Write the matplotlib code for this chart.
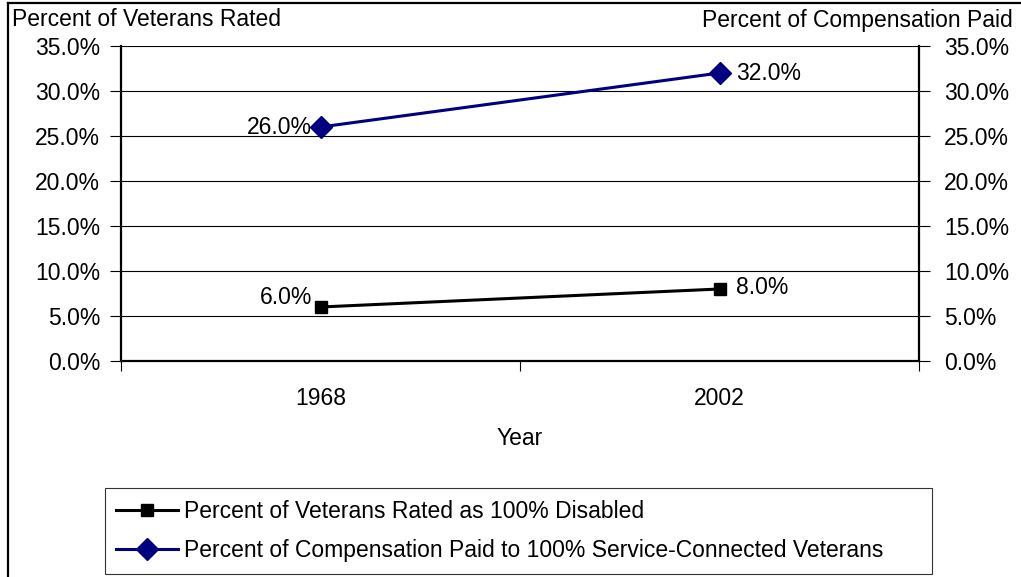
import matplotlib.pyplot as plt
from matplotlib.lines import Line2D
from matplotlib.ticker import FixedLocator, FuncFormatter
import numpy as np

plt.rcParams['font.family'] = ['Liberation Sans', 'DejaVu Sans']

years = ['1968', '2002']
rated_pct = [6.0, 8.0]
comp_pct = [26.0, 32.0]
rated_name = 'Percent of Veterans Rated as 100% Disabled'
comp_name = 'Percent of Compensation Paid to 100% Service-Connected Veterans'

W, H = 1021, 577
fig = plt.figure(figsize=(W / 100, H / 100), dpi=100)
ax = fig.add_axes([121 / W, 1 - 361 / H, (919 - 121) / W, (361 - 46) / H])

x = np.arange(len(years)) + 0.5
fs = 16.5

ax.set_xlim(0, len(years))
ax.set_ylim(0, 35)
ax.yaxis.set_major_locator(FixedLocator(np.arange(0, 35.1, 5)))
ax.yaxis.set_major_formatter(FuncFormatter(lambda v, p: f'{v:.1f}%'))
ax.grid(axis='y', color='black', linewidth=0.8)
ax.set_axisbelow(True)

ax.set_xticks(x)
ax.set_xticklabels(years, fontsize=fs)
ax.set_xticks(np.arange(len(years) + 1), minor=True)
ax.tick_params(axis='x', which='major', length=0, pad=19)
ax.tick_params(axis='x', which='minor', length=7, width=0.8, direction='out')
ax.tick_params(axis='y', length=8, width=0.8, direction='out', labelsize=fs, pad=7)
ax.set_xlabel('Year', fontsize=fs, labelpad=12)

for side in ['left', 'right', 'bottom']:
    ax.spines[side].set_linewidth(1.6)
ax.spines['top'].set_visible(False)

l1, = ax.plot(x, rated_pct, color='black', lw=2.2, marker='s', ms=8,
              label=rated_name, zorder=3)
l2, = ax.plot(x, comp_pct, color='#000080', lw=2.2, marker='D', ms=11,
              label=comp_name, zorder=3)

# value labels: first point on the left, last point on the right
for xs, vals, dy in [(x, rated_pct, (7, 1)), (x, comp_pct, (0, 0))]:
    ax.annotate(f'{vals[0]:.1f}%', (xs[0], vals[0]), xytext=(-6, dy[0]),
                textcoords='offset points', ha='right', va='center', fontsize=fs)
    ax.annotate(f'{vals[1]:.1f}%', (xs[1], vals[1]), xytext=(12, dy[1]),
                textcoords='offset points', ha='left', va='center', fontsize=fs)

ax2 = ax.twinx()
ax2.set_ylim(ax.get_ylim())
ax2.yaxis.set_major_locator(FixedLocator(np.arange(0, 35.1, 5)))
ax2.yaxis.set_major_formatter(FuncFormatter(lambda v, p: f'{v:.1f}%'))
ax2.tick_params(axis='y', length=8, width=0.8, direction='out', labelsize=fs, pad=10)
for side in ['left', 'right', 'bottom', 'top']:
    ax2.spines[side].set_visible(False)

fig.text(12 / W, 1 - 20 / H, 'Percent of Veterans Rated', fontsize=fs,
         ha='left', va='center')
fig.text(1013 / W, 1 - 20 / H, 'Percent of Compensation Paid', fontsize=fs,
         ha='right', va='center')

leg = fig.legend(handles=[l1, l2], loc='upper left',
                 bbox_to_anchor=(105 / W, 1 - 489 / H, (932 - 105) / W, 0.001),
                 mode='expand', fontsize=fs, frameon=True, fancybox=False,
                 edgecolor='black', handlelength=2.7, handletextpad=0.25,
                 borderpad=0.5, labelspacing=0.72, borderaxespad=0)
leg.get_frame().set_linewidth(0.8)

# outer chart border (left and top edges)
fig.add_artist(Line2D([8 / W, 8 / W], [0, 1 - 3 / H], color='black', lw=1.6,
                      transform=fig.transFigure))
fig.add_artist(Line2D([8 / W, 1], [1 - 3 / H, 1 - 3 / H], color='black', lw=1.6,
                      transform=fig.transFigure))

fig.savefig('out.png', dpi=100)
